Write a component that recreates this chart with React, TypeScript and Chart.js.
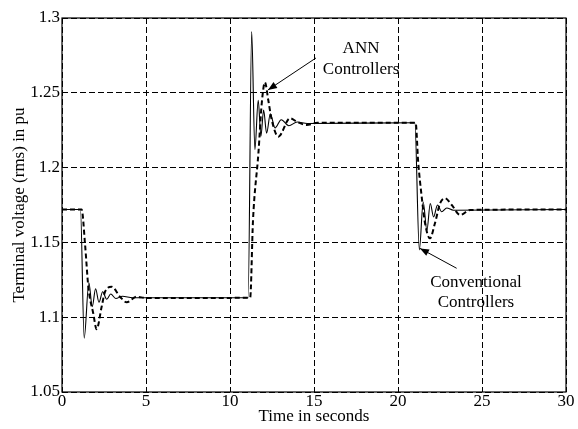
import React, { useEffect, useRef } from 'react';
import { Chart, registerables } from 'chart.js';

Chart.register(...registerables);

// ---- data ----
const xTicks = [0, 5, 10, 15, 20, 25, 30];
const xTickLabels = ['0', '5', '10', '15', '20', '25', '30'];
const yTicks = [1.05, 1.1, 1.15, 1.2, 1.25, 1.3];
const yTickLabels = ['1.05', '1.1', '1.15', '1.2', '1.25', '1.3'];

// Conventional controllers (solid)
const convTime = [
  0, 1.1, 1.32, 1.6, 1.8, 2.0, 2.2, 2.42, 2.66, 2.9, 3.2, 3.6, 4.2,
  11.08, 11.29, 11.48, 11.68, 11.84, 12.0, 12.18, 12.4, 12.68, 13.05, 13.5, 14.0, 14.6,
  21.0, 21.27, 21.5, 21.72, 21.92, 22.12, 22.35, 22.6, 22.9, 23.3, 30,
];
const convVolt = [
  1.172, 1.172, 1.086, 1.123, 1.107, 1.119, 1.11, 1.117, 1.112, 1.1155, 1.1125, 1.114, 1.113,
  1.113, 1.291, 1.212, 1.245, 1.221, 1.2385, 1.223, 1.236, 1.2265, 1.232, 1.228, 1.2305, 1.2295,
  1.23, 1.145, 1.177, 1.158, 1.176, 1.167, 1.175, 1.1705, 1.173, 1.1715, 1.172,
];

// ANN controllers (dashed)
const annTime = [
  0, 1.17, 1.37, 1.57, 1.86, 2.06, 2.36, 2.56, 2.96, 3.45, 3.85, 4.44, 5.0,
  11.2, 11.37, 11.69, 11.89, 12.08, 12.28, 12.48, 12.88, 13.57, 14.0, 14.56, 15.2,
  21.05, 21.2, 21.41, 21.61, 21.9, 22.2, 22.5, 22.8, 23.2, 23.7, 24.3, 30,
];
const annVolt = [
  1.172, 1.172, 1.149, 1.12, 1.1026, 1.092, 1.107, 1.117, 1.1204, 1.1137, 1.11, 1.1137, 1.1128,
  1.113, 1.165, 1.2095, 1.243, 1.257, 1.245, 1.232, 1.2207, 1.233, 1.2305, 1.2285, 1.23,
  1.23, 1.204, 1.1806, 1.1628, 1.1527, 1.1628, 1.176, 1.1795, 1.175, 1.1683, 1.1717, 1.172,
];

const annLabelLines = ['ANN', 'Controllers'];
const convLabelLines = ['Conventional', 'Controllers'];

// annotation placement (data units)
const annLabelAt = { x: 17.8, y: 1.2726 };
const annArrow = { from: { x: 15.12, y: 1.2733 }, to: { x: 12.26, y: 1.2519 } };
const convLabelAt = { x: 24.64, y: 1.1165 };
const convArrow = { from: { x: 23.49, y: 1.1327 }, to: { x: 21.31, y: 1.146 } };

const FONT = "'Liberation Serif', 'Times New Roman', serif";

function drawArrow(ctx: CanvasRenderingContext2D, x1: number, y1: number, x2: number, y2: number) {
  ctx.beginPath();
  ctx.moveTo(x1, y1);
  ctx.lineTo(x2, y2);
  ctx.stroke();
  const ang = Math.atan2(y2 - y1, x2 - x1);
  const len = 9;
  const half = 3.5;
  const bx = x2 - len * Math.cos(ang);
  const by = y2 - len * Math.sin(ang);
  ctx.beginPath();
  ctx.moveTo(x2, y2);
  ctx.lineTo(bx + half * Math.sin(ang), by - half * Math.cos(ang));
  ctx.lineTo(bx - half * Math.sin(ang), by + half * Math.cos(ang));
  ctx.closePath();
  ctx.fill();
}

const framePlugin = {
  id: 'frameAndNotes',
  afterDatasetsDraw(chart: any) {
    const { ctx, chartArea: a, scales } = chart;
    const xs = scales.x;
    const ys = scales.y;
    ctx.save();
    ctx.setLineDash([]);
    ctx.strokeStyle = '#000';
    ctx.fillStyle = '#000';
    ctx.lineWidth = 1.2;
    ctx.strokeRect(a.left, a.top, a.right - a.left, a.bottom - a.top);

    ctx.font = `17px ${FONT}`;
    ctx.textAlign = 'center';
    ctx.textBaseline = 'middle';
    const drawLines = (lines: string[], at: { x: number; y: number }) => {
      const cx = xs.getPixelForValue(at.x);
      const cy = ys.getPixelForValue(at.y);
      const lh = 20.5;
      const y0 = cy - ((lines.length - 1) * lh) / 2;
      lines.forEach((t, i) => ctx.fillText(t, cx, y0 + i * lh));
    };
    drawLines(annLabelLines, annLabelAt);
    drawLines(convLabelLines, convLabelAt);

    ctx.lineWidth = 1;
    for (const ar of [annArrow, convArrow]) {
      drawArrow(
        ctx,
        xs.getPixelForValue(ar.from.x),
        ys.getPixelForValue(ar.from.y),
        xs.getPixelForValue(ar.to.x),
        ys.getPixelForValue(ar.to.y)
      );
    }
    ctx.restore();
  },
};

export default function App() {
  const ref = useRef<HTMLCanvasElement | null>(null);

  useEffect(() => {
    if (!ref.current) return;
    const chart = new Chart(ref.current, {
      type: 'line',
      data: {
        datasets: [
          {
            label: 'Conventional Controllers',
            data: convTime.map((t, i) => ({ x: t, y: convVolt[i] })),
            borderColor: '#000',
            borderWidth: 1.1,
            pointRadius: 0,
            fill: false,
            cubicInterpolationMode: 'monotone',
          },
          {
            label: 'ANN Controllers',
            data: annTime.map((t, i) => ({ x: t, y: annVolt[i] })),
            borderColor: '#000',
            borderWidth: 2,
            borderDash: [5, 3],
            pointRadius: 0,
            fill: false,
            cubicInterpolationMode: 'monotone',
          },
        ],
      },
      options: {
        responsive: false,
        animation: false,
        devicePixelRatio: 1,
        layout: { padding: { top: 18, right: 12, left: 0, bottom: 0 } },
        plugins: {
          legend: { display: false },
          tooltip: { enabled: false },
          title: { display: false },
        },
        scales: {
          x: {
            type: 'linear',
            min: 0,
            max: 30,
            afterBuildTicks: (s: any) => {
              s.ticks = xTicks.map((v) => ({ value: v }));
            },
            afterFit: (s: any) => {
              s.height = 37;
            },
            ticks: {
              callback: (_v: any, i: number) => xTickLabels[i],
              color: '#000',
              font: { family: FONT, size: 17 },
              padding: -1,
              maxRotation: 0,
              autoSkip: false,
            },
            grid: { color: '#000', lineWidth: 1, drawTicks: false },
            border: { display: false, dash: [6, 3] },
            title: {
              display: true,
              text: 'Time in seconds',
              color: '#000',
              font: { family: FONT, size: 17 },
              padding: { top: 0, bottom: 2 },
            },
          },
          y: {
            type: 'linear',
            min: 1.05,
            max: 1.3,
            afterBuildTicks: (s: any) => {
              s.ticks = yTicks.map((v) => ({ value: v }));
            },
            afterFit: (s: any) => {
              s.width = 62;
            },
            ticks: {
              callback: (_v: any, i: number) => yTickLabels[i],
              color: '#000',
              font: { family: FONT, size: 17 },
              padding: 2,
              autoSkip: false,
            },
            grid: { color: '#000', lineWidth: 1, drawTicks: false },
            border: { display: false, dash: [6, 3] },
            title: {
              display: true,
              text: 'Terminal voltage (rms) in pu',
              color: '#000',
              font: { family: FONT, size: 17 },
              padding: { top: 9, bottom: 0 },
            },
          },
        },
      },
      plugins: [framePlugin],
    } as any);
    return () => chart.destroy();
  }, []);

  return (
    <div
      style={{
        position: 'fixed',
        left: 0,
        top: 0,
        width: 578,
        height: 429,
        background: '#fff',
      }}
    >
      <canvas ref={ref} width={578} height={429} style={{ width: 578, height: 429, display: 'block' }} />
    </div>
  );
}
